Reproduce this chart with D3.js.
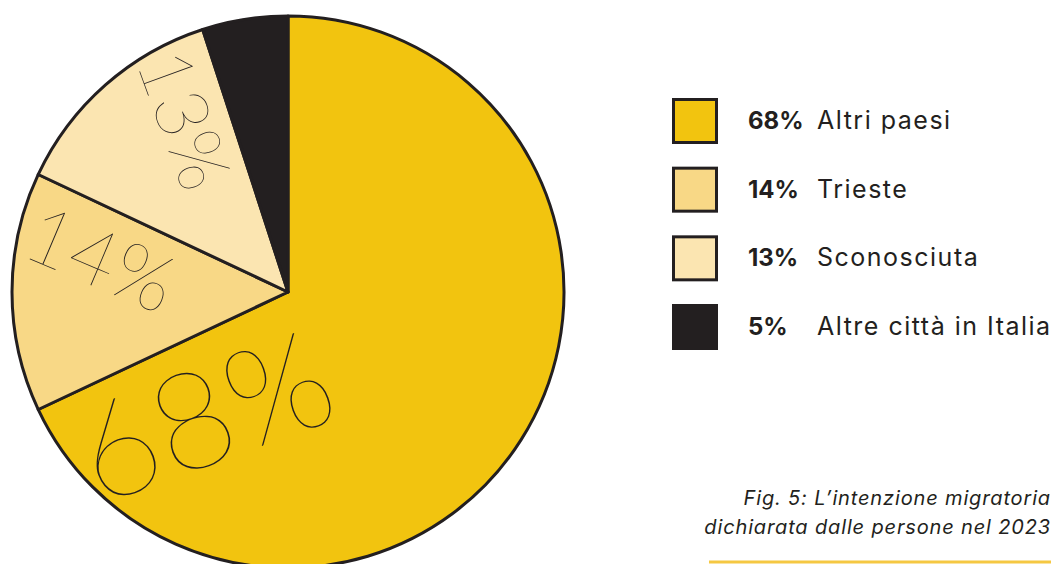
<!DOCTYPE html>
<html>
<head>
<meta charset="utf-8">
<script src="https://cdn.jsdelivr.net/npm/d3@7"></script>
<style>
  html, body { margin: 0; padding: 0; background: #fff; }
  svg { display: block; }
</style>
</head>
<body>
<div class="chart"></div>
<script>
document.addEventListener("DOMContentLoaded", function(event) {

  // data
  var categories = ["Altri paesi", "Trieste", "Sconosciuta", "Altre città in Italia"];
  var values = [68, 14, 13, 5];
  var colors = ["#F2C40F", "#F8D886", "#FBE5B1", "#231F20"];
  var caption = ["Fig. 5: L’intenzione migratoria", "dichiarata dalle persone nel 2023"];

  var w = 1056, h = 564;
  var cx = 288, cy = 292, r = 276;
  var ink = "#231F20";

  // where each big slice label sits (angle in degrees clockwise from top, radius, rotation, size)
  var labelLayout = [
    {a: 214, d: 150, rot: -20, size: 136},
    {a: 280, d: 190, rot: 23, size: 80},
    {a: 329, d: 201, rot: 70, size: 74},
    null
  ];

  var svg = d3.select(".chart")
              .append("svg")
              .attr("width", w)
              .attr("height", h);

  var data = categories.map(function(c, i) { return {name: c, value: values[i], color: colors[i], i: i}; });

  var pie = d3.pie().sort(null).value(function(d) { return d.value; });
  var arc = d3.arc().innerRadius(0).outerRadius(r);

  var g = svg.append("g").attr("transform", "translate(" + cx + "," + cy + ")");

  var arcs = pie(data);

  g.selectAll("path.slice")
   .data(arcs)
   .enter()
   .append("path")
   .attr("class", "slice")
   .attr("d", arc)
   .attr("fill", function(d) { return d.data.color; })
   .attr("stroke", ink)
   .attr("stroke-width", 3)
   .attr("stroke-linejoin", "round");

  // slice labels
  g.selectAll("text.big")
   .data(arcs.filter(function(d) { return labelLayout[d.data.i]; }))
   .enter()
   .append("text")
   .attr("class", "big")
   .attr("transform", function(d) {
      var L = labelLayout[d.data.i];
      var t = L.a * Math.PI / 180;
      var x = L.d * Math.sin(t), y = -L.d * Math.cos(t);
      return "translate(" + x + "," + y + ") rotate(" + L.rot + ")";
   })
   .attr("text-anchor", "middle")
   .attr("dy", "0.35em")
   .attr("font-family", "Lato, Roboto, sans-serif")
   .attr("font-weight", 100)
   .attr("font-size", function(d) { return labelLayout[d.data.i].size; })
   .attr("fill", ink)
   .text(function(d) { return d.data.value + "%"; });

  // legend
  var legY = d3.scalePoint().domain(categories).range([121, 327]);

  var leg = svg.selectAll("g.leg")
               .data(data)
               .enter()
               .append("g")
               .attr("class", "leg")
               .attr("transform", function(d) { return "translate(0," + legY(d.name) + ")"; });

  leg.append("rect")
     .attr("x", 673.5)
     .attr("y", -21.5)
     .attr("width", 43)
     .attr("height", 43)
     .attr("fill", function(d) { return d.color; })
     .attr("stroke", ink)
     .attr("stroke-width", 3);

  leg.append("text")
     .attr("x", 748)
     .attr("y", 8)
     .attr("font-family", "Inter, 'Open Sans', sans-serif")
     .attr("font-weight", 700)
     .attr("font-size", 24)
     .attr("fill", ink)
     .text(function(d) { return d.value + "%"; });

  leg.append("text")
     .attr("x", 817)
     .attr("y", 8)
     .attr("font-family", "Inter, 'Open Sans', sans-serif")
     .attr("font-weight", 400)
     .attr("font-size", 25)
     .attr("letter-spacing", 1.5)
     .attr("fill", ink)
     .text(function(d) { return d.name; });

  // caption
  svg.selectAll("text.cap")
     .data(caption)
     .enter()
     .append("text")
     .attr("class", "cap")
     .attr("x", 1051)
     .attr("y", function(d, i) { return 505 + i * 29; })
     .attr("text-anchor", "end")
     .attr("font-family", "Inter, 'Open Sans', sans-serif")
     .attr("font-style", "italic")
     .attr("font-size", 20)
     .attr("letter-spacing", 0.85)
     .attr("fill", ink)
     .text(function(d) { return d; });

  svg.append("line")
     .attr("x1", 709)
     .attr("x2", 1051)
     .attr("y1", 562)
     .attr("y2", 562)
     .attr("stroke", "#F5C842")
     .attr("stroke-width", 3);
});
</script>
</body>
</html>
